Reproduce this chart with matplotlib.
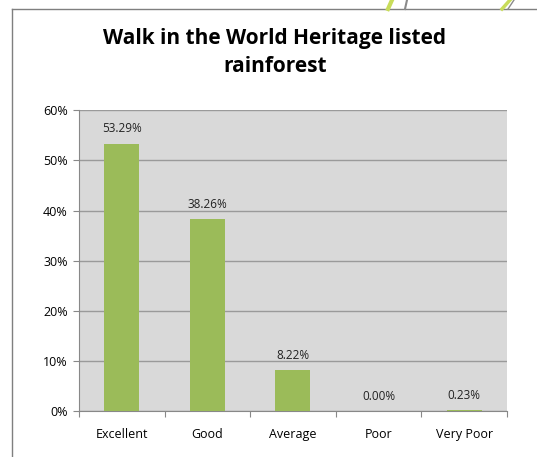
import matplotlib.pyplot as plt
from matplotlib.lines import Line2D
from matplotlib.ticker import PercentFormatter

categories = ["Excellent", "Good", "Average", "Poor", "Very Poor"]
values = [53.29, 38.26, 8.22, 0.00, 0.23]
yticks = [0, 10, 20, 30, 40, 50, 60]

plt.rcParams['font.family'] = ['Open Sans', 'DejaVu Sans']

fig = plt.figure(figsize=(5.37, 4.57), dpi=100)
ax = fig.add_axes([0.147, 0.100, 0.797, 0.659])
ax.set_facecolor('#d9d9d9')

x = range(len(categories))
ax.bar(x, values, width=0.41, color='#9bbb59', zorder=3)
for i, v in zip(x, values):
    ax.text(i, v + 1.7, f"{v:.2f}%", ha='center', va='bottom', fontsize=8.5, color='#222222', zorder=4)

ax.set_xlim(-0.5, len(categories) - 0.5)
ax.set_ylim(0, 60)
ax.set_yticks(yticks)
ax.yaxis.set_major_formatter(PercentFormatter(decimals=0))
ax.grid(axis='y', color='#9a9a9a', linewidth=1, zorder=1)
ax.set_xticks([i + 0.5 for i in range(-1, len(categories))], minor=False)
ax.set_xticklabels([])
ax.set_xticks(list(x), minor=True)
ax.set_xticklabels(categories, minor=True)
ax.tick_params(axis='x', which='minor', length=0, pad=12, labelsize=9)
ax.tick_params(axis='x', which='major', length=4, color='#888888')
ax.tick_params(axis='y', length=4, color='#888888', labelsize=9, pad=4)

for side in ['top', 'right']:
    ax.spines[side].set_visible(False)
for side in ['left', 'bottom']:
    ax.spines[side].set_color('#888888')

fig.text(0.512, 0.885, "Walk in the World Heritage listed\nrainforest", ha='center', va='center',
         fontsize=15, fontweight='bold', linespacing=1.45)

# outer frame (partly cropped)
fig.add_artist(Line2D([12 / 537, 1], [1 - 9 / 457, 1 - 9 / 457], color='#7f7f7f', lw=1, transform=fig.transFigure))
fig.add_artist(Line2D([12 / 537, 12 / 537], [0, 1 - 9 / 457], color='#7f7f7f', lw=1, transform=fig.transFigure))

# decorative strokes above the frame
fig.add_artist(Line2D([388 / 537, 392 / 537], [1 - 9 / 457, 1.0], color='#c8dc5a', lw=3, transform=fig.transFigure))
fig.add_artist(Line2D([405 / 537, 407 / 537], [1 - 9 / 457, 1.0], color='#8a8a8a', lw=1.5, transform=fig.transFigure))
fig.add_artist(Line2D([502 / 537, 510 / 537], [1 - 9 / 457, 1.0], color='#c8dc5a', lw=2.5, transform=fig.transFigure))
fig.add_artist(Line2D([508 / 537, 514 / 537], [1 - 9 / 457, 1.0], color='#8a8a8a', lw=1, transform=fig.transFigure))

fig.savefig("out.png", dpi=100)
